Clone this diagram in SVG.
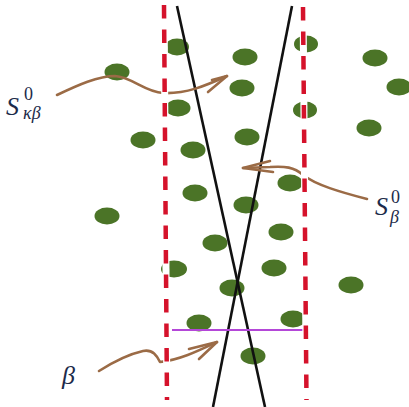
<svg xmlns="http://www.w3.org/2000/svg" width="409" height="407" viewBox="0 0 409 407">
<style>
.dot{fill:#4b7427}
.blk{stroke:#111;stroke-width:2.6;fill:none}
.brn{stroke:#9b6b46;stroke-width:2.6;fill:none;stroke-linecap:round;stroke-linejoin:round}
.wht{stroke:#fff;stroke-width:7;fill:none}
.red{stroke:#d5122b;stroke-width:4.5;fill:none;stroke-dasharray:13.5 11}
.lab{font-family:"Liberation Serif",serif;fill:#1c2b4a}
.it{font-style:italic}
</style>
<rect width="409" height="407" fill="#fff"/>
<g id="dots">
<ellipse class="dot" cx="117" cy="72" rx="12.5" ry="8.5"/>
<ellipse class="dot" cx="177" cy="47" rx="12" ry="8.5"/>
<ellipse class="dot" cx="245" cy="57" rx="12.5" ry="8.5"/>
<ellipse class="dot" cx="242" cy="88" rx="12.5" ry="8.5"/>
<ellipse class="dot" cx="178" cy="108" rx="12.5" ry="8.5"/>
<ellipse class="dot" cx="306" cy="44" rx="12" ry="8.5"/>
<ellipse class="dot" cx="305" cy="110" rx="12" ry="8.5"/>
<ellipse class="dot" cx="375" cy="58" rx="12.5" ry="8.5"/>
<ellipse class="dot" cx="399" cy="87" rx="12.5" ry="8.5"/>
<ellipse class="dot" cx="369" cy="128" rx="12.5" ry="8.5"/>
<ellipse class="dot" cx="143" cy="140" rx="12.5" ry="8.5"/>
<ellipse class="dot" cx="107" cy="216" rx="12.5" ry="8.5"/>
<ellipse class="dot" cx="247" cy="137" rx="12.5" ry="8.5"/>
<ellipse class="dot" cx="193" cy="150" rx="12.5" ry="8.5"/>
<ellipse class="dot" cx="290" cy="183" rx="12.5" ry="8.5"/>
<ellipse class="dot" cx="195" cy="193" rx="12.5" ry="8.5"/>
<ellipse class="dot" cx="246" cy="205" rx="12.5" ry="8.5"/>
<ellipse class="dot" cx="215" cy="243" rx="12.5" ry="8.5"/>
<ellipse class="dot" cx="281" cy="232" rx="12.5" ry="8.5"/>
<ellipse class="dot" cx="174" cy="269" rx="13" ry="8.5"/>
<ellipse class="dot" cx="274" cy="268" rx="12.5" ry="8.5"/>
<ellipse class="dot" cx="232" cy="288" rx="12.5" ry="8.5"/>
<ellipse class="dot" cx="351" cy="285" rx="12.5" ry="8.5"/>
<ellipse class="dot" cx="199" cy="323" rx="12.5" ry="8.5"/>
<ellipse class="dot" cx="293" cy="319" rx="12.5" ry="8.5"/>
<ellipse class="dot" cx="253" cy="356" rx="12.5" ry="8.5"/>
</g>
<g id="connectors">
<path class="blk" d="M177,6 L265,407"/>
<path class="blk" d="M292,6 L213,407"/>
<path d="M172,330 L305,330" stroke="#b447d8" stroke-width="2" fill="none"/>
<path class="brn" d="M57,95 C78,85 98,76 115,76 C132,77 145,92 163,93 C186,94 205,86 227,76"/>
<path class="brn" d="M212,80 L227,76 L208,92"/>
<path class="brn" d="M367,199 C340,192 316,185 303,175 C294,167 285,166 270,167 L243,168"/>
<path class="brn" d="M270,161 L243,168 L273,172"/>
<path class="brn" d="M99,371 C110,364 125,355 143,351 C153,349 157,356 160,362 C180,360 200,350 217,342"/>
<path class="brn" d="M189,349 L217,342 L199,359"/>
<path class="wht" d="M164,0 L167,407"/>
<path class="wht" d="M303,0 L306.5,407"/>
<path class="red" d="M164,5 L167,400"/>
<path class="red" d="M303,7 L306.5,400"/>
</g>
<g id="label-skb" class="lab">
<text x="6" y="115" font-size="26" class="it">S</text>
<text x="24" y="100" font-size="18">0</text>
<text x="23" y="119" font-size="18" class="it">κβ</text>
</g>
<g id="label-sb" class="lab">
<text x="375" y="215" font-size="26" class="it">S</text>
<text x="391" y="203" font-size="18">0</text>
<text x="390" y="223" font-size="18" class="it">β</text>
</g>
<g id="label-b" class="lab">
<text x="62" y="384" font-size="26" class="it">β</text>
</g>
</svg>
